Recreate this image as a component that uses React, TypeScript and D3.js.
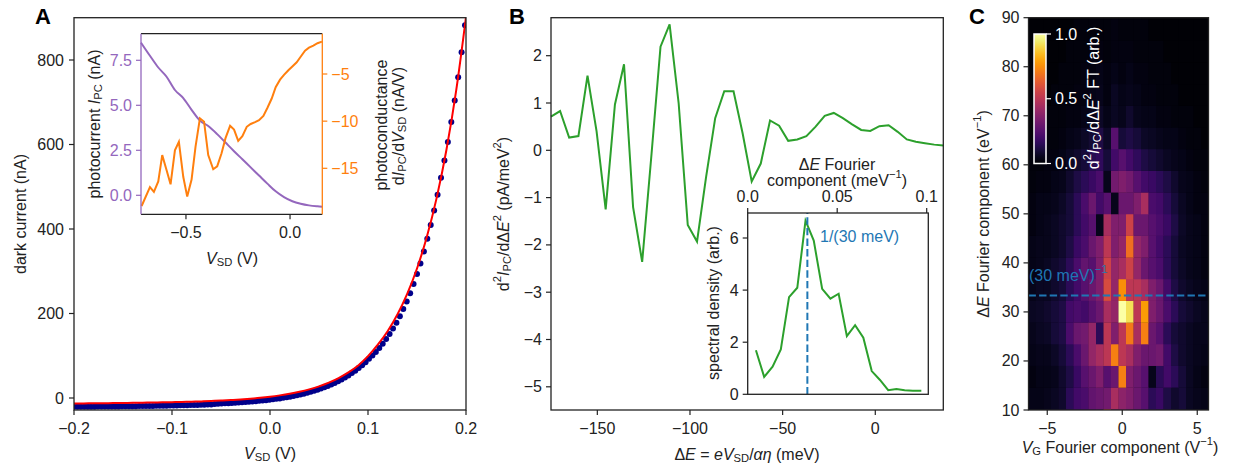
import React from "react";
import * as d3 from "d3";

const FONT = "'Liberation Sans', Arial, Helvetica, sans-serif";
const FS = 16;
const INK = "#222";

// ---------------- Panel A : dark current ----------------
const darkV = [
  -0.2, -0.1965, -0.193, -0.1895, -0.186, -0.1825, -0.179, -0.1755, -0.172, -0.1685,
  -0.165, -0.1615, -0.158, -0.1545, -0.151, -0.1475, -0.144, -0.1405, -0.137, -0.1335,
  -0.13, -0.1265, -0.123, -0.1195, -0.116, -0.1125, -0.109, -0.1055, -0.102, -0.0985,
  -0.095, -0.0915, -0.088, -0.0845, -0.081, -0.0775, -0.074, -0.0705, -0.067, -0.0635,
  -0.06, -0.0565, -0.053, -0.0495, -0.046, -0.0425, -0.039, -0.0355, -0.032, -0.0285,
  -0.025, -0.0215, -0.018, -0.0145, -0.011, -0.0075, -0.004, -0.0005, 0.003, 0.0065,
  0.01, 0.0135, 0.017, 0.0205, 0.024, 0.0275, 0.031, 0.0345, 0.038, 0.0415,
  0.045, 0.0485, 0.052, 0.0555, 0.059, 0.0625, 0.066, 0.0695, 0.073, 0.0765,
  0.08, 0.0835, 0.087, 0.0905, 0.094, 0.0975, 0.101, 0.1045, 0.108, 0.1115,
  0.115, 0.1185, 0.122, 0.1255, 0.129, 0.1325, 0.136, 0.1395, 0.143, 0.1465,
  0.15, 0.1535, 0.157, 0.1605, 0.164, 0.1675, 0.171, 0.1745, 0.178, 0.1815,
  0.185, 0.1885, 0.192, 0.1955, 0.199,
];
const darkI = [
  -21.0, -20.9, -20.8, -20.8, -20.7, -20.6, -20.5, -20.4, -20.3, -20.3,
  -20.2, -20.1, -20.0, -19.9, -19.8, -19.7, -19.6, -19.5, -19.3, -19.2,
  -19.1, -19.0, -18.9, -18.7, -18.6, -18.4, -18.3, -18.1, -18.0, -17.8,
  -17.6, -17.4, -17.2, -17.0, -16.8, -16.5, -16.3, -16.0, -15.7, -15.4,
  -15.1, -14.3, -13.7, -13.2, -12.7, -12.2, -11.8, -11.3, -10.8, -10.2,
  -9.6, -9.0, -8.3, -7.6, -6.8, -6.0, -5.1, -4.1, -3.1, -2.0,
  -0.9, 0.4, 1.8, 3.2, 4.8, 6.4, 8.2, 10.2, 12.3, 14.5,
  16.9, 19.5, 22.2, 25.2, 28.4, 31.9, 35.6, 39.6, 43.9, 48.5,
  53.5, 58.9, 64.7, 70.9, 77.6, 84.8, 92.8, 100.3, 108.6, 118.6,
  128.3, 139.9, 151.3, 164.7, 178.2, 193.7, 210.5, 228.5, 247.9, 269.9,
  293.4, 318.6, 346.8, 377.0, 409.3, 444.0, 481.2, 521.1, 561.9, 606.0,
  653.3, 704.4, 759.3, 818.6, 882.5,
];
const fitV = [
  -0.2, -0.19, -0.18, -0.17, -0.16, -0.15, -0.14, -0.13, -0.12, -0.11,
  -0.1, -0.09, -0.08, -0.07, -0.06, -0.05, -0.04, -0.03, -0.02, -0.01,
  0, 0.01, 0.02, 0.03, 0.04, 0.05, 0.06, 0.07, 0.08, 0.09,
  0.1, 0.11, 0.12, 0.13, 0.14, 0.15, 0.16, 0.17, 0.18, 0.19, 0.2,
];
const fitI = [
  -13.0, -12.8, -12.5, -12.3, -12.0, -11.8, -11.4, -11.1, -10.7, -10.3,
  -9.9, -9.3, -8.7, -8.0, -7.1, -6.1, -4.9, -3.5, -1.7, 0.4,
  3.0, 6.2, 10.0, 14.7, 20.5, 27.6, 36.4, 47.2, 60.6, 77.0,
  99.0, 126.2, 158.1, 197.6, 246.3, 306.6, 381.0, 473.1, 587.0, 727.9, 902.2,
];
const aXTicks = [-0.2, -0.1, 0, 0.1, 0.2];
const aXLabels = ["\u22120.2", "\u22120.1", "0.0", "0.1", "0.2"];
const aYTicks = [0, 200, 400, 600, 800];

// inset A : photocurrent and photoconductance
const pcV = [-0.716, -0.673, -0.633, -0.594, -0.553, -0.513, -0.473, -0.433, -0.393, -0.35, -0.31, -0.269, -0.229, -0.189, -0.149, -0.109, -0.069, -0.029, 0.011, 0.051, 0.091, 0.132, 0.155];
const pcI = [8.48, 7.75, 7.1, 6.6, 5.85, 5.4, 4.75, 4.15, 3.85, 3.4, 2.93, 2.45, 2.0, 1.55, 1.1, 0.65, 0.22, -0.1, -0.33, -0.47, -0.56, -0.61, -0.63];
const gV = [
  -0.713, -0.673, -0.654, -0.633, -0.614, -0.593, -0.574, -0.553, -0.534, -0.513,
  -0.494, -0.473, -0.454, -0.433, -0.413, -0.393, -0.369, -0.35, -0.329, -0.31,
  -0.288, -0.269, -0.249, -0.229, -0.208, -0.189, -0.168, -0.149, -0.128, -0.109,
  -0.088, -0.069, -0.048, -0.029, -0.008, 0.011, 0.032, 0.051, 0.072, 0.091,
  0.112, 0.132, 0.153,
];
const gG = [
  -19.0, -17.0, -17.5, -16.4, -13.6, -15.2, -16.7, -13.1, -12.2, -15.9,
  -18.0, -16.2, -12.7, -9.7, -10.06, -13.6, -15.1, -14.8, -13.4, -11.8,
  -10.5, -10.9, -12.1, -11.6, -10.6, -10.3, -10.1, -9.9, -9.45, -8.6,
  -7.6, -6.4, -5.6, -5.1, -4.6, -4.2, -3.76, -3.17, -2.53, -2.21,
  -2.0, -1.74, -1.57,
];
const iaXTicks = [-0.5, 0];
const iaXLabels = ["\u22120.5", "0.0"];
const iaLTicks = [0, 2.5, 5, 7.5];
const iaLLabels = ["0.0", "2.5", "5.0", "7.5"];
const iaRTicks = [-15, -10, -5];
const iaRLabels = ["\u221215", "\u221210", "\u22125"];

// ---------------- Panel B ----------------
const bE = [
  -175.0, -170.1, -165.2, -160.2, -155.3, -150.4, -145.5, -140.5, -135.6, -130.7,
  -125.8, -120.8, -115.9, -111.0, -106.1, -101.2, -96.2, -91.3, -86.4, -81.5,
  -76.5, -71.6, -66.7, -61.8, -56.8, -51.9, -47.0, -42.1, -37.2, -32.2,
  -27.3, -22.4, -17.5, -12.5, -7.6, -2.7, 2.2, 7.2, 12.1, 17.0,
  21.9, 26.8, 31.8, 36.7,
];
const bD = [
  0.71, 0.83, 0.27, 0.3, 1.58, 0.4, -1.25, 0.97, 1.82, -1.2,
  -2.36, -0.1, 2.19, 2.66, 0.99, -1.58, -1.93, -0.56, 0.68, 1.25,
  1.25, 0.36, -0.66, -0.28, 0.63, 0.52, 0.2, 0.23, 0.3, 0.5,
  0.73, 0.79, 0.68, 0.55, 0.43, 0.41, 0.51, 0.53, 0.39, 0.23,
  0.18, 0.15, 0.12, 0.1,
];
const bXTicks = [-150, -100, -50, 0];
const bXLabels = ["\u2212150", "\u2212100", "\u221250", "0"];
const bYTicks = [-5, -4, -3, -2, -1, 0, 1, 2];
const bYLabels = ["\u22125", "\u22124", "\u22123", "\u22122", "\u22121", "0", "1", "2"];

const fK = [0.0046, 0.0092, 0.0139, 0.0185, 0.0231, 0.0277, 0.0323, 0.0369, 0.0416, 0.0462, 0.0508, 0.0554, 0.06, 0.0646, 0.0693, 0.0739, 0.0785, 0.0831, 0.0877, 0.0923, 0.097];
const fS = [1.69, 0.67, 1.06, 1.72, 3.73, 4.09, 6.67, 5.9, 4.05, 3.67, 3.86, 2.23, 2.65, 2.17, 0.89, 0.55, 0.16, 0.2, 0.16, 0.14, 0.14];
const ibXTicks = [0, 0.05, 0.1];
const ibXLabels = ["0.0", "0.05", "0.1"];
const ibYTicks = [0, 2, 4, 6];
const markerFreq = 1 / 30;

// ---------------- Panel C ----------------
const vgFreq = [-6, -5.5, -5, -4.5, -4, -3.5, -3, -2.5, -2, -1.5, -1, -0.5, 0, 0.5, 1, 1.5, 2, 2.5, 3, 3.5, 4, 4.5, 5, 5.5];
const eFreq = [7.99, 12.41, 16.83, 21.25, 25.67, 30.09, 34.51, 38.93, 43.35, 47.77, 52.19, 56.61, 61.03, 65.45, 69.87, 74.29, 78.71, 83.13, 87.55, 91.97];
const ftGrid = [
  [.05,.05,.06,.08,.10,.12,.15,.18,.22,.25,.65,.30,.35,.30,.25,.20,.15,.12,.10,.08,.06,.05,.05,.04],
  [.04,.04,.05,.06,.08,.15,.20,.22,.28,.30,.32,.45,.38,.35,.30,.25,.15,.18,.12,.08,.10,.06,.05,.04],
  [.03,.04,.04,.05,.08,.12,.18,.25,.30,.35,.25,.30,.72,.35,.30,.25,.05,.15,.20,.15,.10,.06,.04,.03],
  [.04,.05,.05,.07,.10,.15,.22,.30,.40,.45,.50,.72,.50,.45,.35,.30,.30,.32,.20,.12,.08,.06,.05,.04],
  [.05,.06,.07,.10,.12,.22,.30,.32,.40,.15,.50,.35,.50,.70,.45,.72,.30,.25,.15,.10,.08,.06,.05,.05],
  [.06,.07,.08,.10,.12,.20,.22,.20,.25,.30,.45,.40,1.0,.92,.50,.78,.35,.30,.22,.15,.10,.08,.06,.05],
  [.05,.06,.06,.08,.10,.15,.20,.25,.30,.35,.58,.40,.75,.50,.50,.45,.35,.30,.20,.12,.08,.06,.05,.04],
  [.04,.05,.06,.08,.10,.15,.22,.28,.25,.35,.55,.40,.45,.55,.40,.30,.25,.22,.15,.10,.07,.05,.04,.03],
  [.04,.05,.05,.06,.08,.12,.18,.22,.30,.35,.50,.35,.40,.68,.40,.35,.25,.20,.15,.10,.06,.05,.04,.03],
  [.03,.04,.05,.06,.08,.10,.15,.20,.25,.05,.45,.35,.35,.55,.30,.30,.25,.22,.18,.12,.07,.05,.04,.03],
  [.03,.04,.04,.05,.07,.10,.15,.22,.30,.20,.25,.05,.30,.30,.35,.45,.22,.20,.15,.10,.06,.04,.03,.03],
  [.02,.03,.03,.04,.05,.08,.12,.15,.18,.22,.05,.32,.35,.32,.25,.20,.18,.15,.12,.08,.05,.04,.03,.02],
  [.02,.02,.03,.03,.04,.06,.08,.10,.14,.16,.10,.20,.25,.20,.16,.12,.10,.08,.06,.05,.04,.03,.02,.02],
  [.01,.02,.02,.02,.03,.04,.05,.07,.09,.12,.07,.25,.10,.12,.10,.07,.06,.05,.04,.04,.03,.02,.02,.01],
  [.01,.01,.02,.02,.02,.03,.03,.04,.05,.07,.04,.06,.05,.08,.05,.04,.04,.03,.03,.02,.02,.02,.01,.01],
  [.01,.01,.01,.02,.02,.02,.03,.03,.04,.05,.03,.06,.04,.05,.04,.03,.03,.02,.02,.02,.01,.01,.01,.01],
  [.01,.01,.01,.01,.02,.02,.02,.03,.03,.04,.03,.04,.03,.04,.03,.03,.02,.02,.02,.01,.01,.01,.01,.01],
  [.01,.01,.01,.01,.01,.02,.02,.02,.03,.03,.02,.03,.03,.03,.02,.02,.02,.02,.01,.01,.01,.01,.01,.01],
  [.01,.01,.01,.01,.01,.01,.02,.02,.02,.02,.02,.03,.02,.02,.02,.02,.01,.01,.01,.01,.01,.01,.01,.01],
  [.01,.01,.01,.01,.01,.01,.01,.01,.02,.02,.02,.02,.02,.02,.02,.01,.01,.01,.01,.01,.01,.01,.01,.01],
];
const cXTicks = [-5, 0, 5];
const cXLabels = ["\u22125", "0", "5"];
const cYTicks = [10, 20, 30, 40, 50, 60, 70, 80, 90];
const cbTicks = [0, 0.5, 1];
const cbLabels = ["0.0", "0.5", "1.0"];
const periodFreq = 1000 / 30;

// ---------------- helpers ----------------
type Part = { t: string; it?: boolean; sub?: boolean; sup?: boolean };
function Rich({ parts, fs = FS }: { parts: Part[]; fs?: number }) {
  let cur = 0;
  return (
    <>
      {parts.map((p, i) => {
        const target = p.sub ? fs * 0.24 : p.sup ? -fs * 0.4 : 0;
        const dy = target - cur;
        cur = target;
        return (
          <tspan
            key={i}
            dy={dy}
            fontStyle={p.it ? "italic" : "normal"}
            fontSize={p.sub || p.sup ? fs * 0.7 : fs}
          >
            {p.t}
          </tspan>
        );
      })}
    </>
  );
}

function LeftTicks({ scale, ticks, labels, x, color = INK, len = 5, gap = 4 }: any) {
  return (
    <g>
      {ticks.map((t: number, i: number) => (
        <g key={i}>
          <line x1={x - len} x2={x} y1={scale(t)} y2={scale(t)} stroke={color} strokeWidth={1.2} />
          <text x={x - len - gap} y={scale(t)} textAnchor="end" dominantBaseline="central" fill={color} fontSize={FS}>
            {labels ? labels[i] : String(t)}
          </text>
        </g>
      ))}
    </g>
  );
}
function RightTicks({ scale, ticks, labels, x, color = INK, len = 5, gap = 4 }: any) {
  return (
    <g>
      {ticks.map((t: number, i: number) => (
        <g key={i}>
          <line x1={x} x2={x + len} y1={scale(t)} y2={scale(t)} stroke={color} strokeWidth={1.2} />
          <text x={x + len + gap} y={scale(t)} textAnchor="start" dominantBaseline="central" fill={color} fontSize={FS}>
            {labels ? labels[i] : String(t)}
          </text>
        </g>
      ))}
    </g>
  );
}
function BottomTicks({ scale, ticks, labels, y, color = INK, len = 5, gap = 13 }: any) {
  return (
    <g>
      {ticks.map((t: number, i: number) => (
        <g key={i}>
          <line x1={scale(t)} x2={scale(t)} y1={y} y2={y + len} stroke={color} strokeWidth={1.2} />
          <text x={scale(t)} y={y + len + gap} textAnchor="middle" dominantBaseline="central" fill={color} fontSize={FS}>
            {labels ? labels[i] : String(t)}
          </text>
        </g>
      ))}
    </g>
  );
}
function TopTicks({ scale, ticks, labels, y, color = INK, len = 5, gap = 12 }: any) {
  return (
    <g>
      {ticks.map((t: number, i: number) => (
        <g key={i}>
          <line x1={scale(t)} x2={scale(t)} y1={y - len} y2={y} stroke={color} strokeWidth={1.2} />
          <text x={scale(t)} y={y - len - gap} textAnchor="middle" dominantBaseline="central" fill={color} fontSize={FS}>
            {labels ? labels[i] : String(t)}
          </text>
        </g>
      ))}
    </g>
  );
}
function VLabel({ x, y, parts, fill = INK }: { x: number; y: number; parts: Part[]; fill?: string }) {
  return (
    <text transform={`translate(${x},${y}) rotate(-90)`} textAnchor="middle" dominantBaseline="central" fill={fill} fontSize={FS}>
      <Rich parts={parts} />
    </text>
  );
}

export default function App() {
  // ---- Panel A geometry ----
  const A = { l: 74, r: 466, t: 17.7, b: 410 };
  const xA = d3.scaleLinear().domain([-0.2, 0.2]).range([A.l, A.r]);
  const yA = d3.scaleLinear().domain([0, 800]).range([398, 60]);
  const fitLine = d3
    .line<number>()
    .x((_, i) => xA(fitV[i]))
    .y((d) => yA(d))
    .curve(d3.curveMonotoneX)(fitI);

  const IA = { l: 141, r: 322.3, t: 33.7, b: 214.3 };
  const xIA = d3.scaleLinear().domain([-0.716, 0.155]).range([IA.l, IA.r]);
  const yIAL = d3.scaleLinear().domain([0, 7.5]).range([195.3, 60.3]);
  const yIAR = d3.scaleLinear().domain([-15, -5]).range([168.3, 74]);
  const pcLine = d3.line<number>().x((_, i) => xIA(pcV[i])).y((d) => yIAL(d)).curve(d3.curveMonotoneX)(pcI);
  const gLine = d3.line<number>().x((_, i) => xIA(gV[i])).y((d) => yIAR(d))(gG);

  // ---- Panel B geometry ----
  const B = { l: 551, r: 943.3, t: 17.7, b: 410 };
  const xB = d3.scaleLinear().domain([-175, 36.7]).range([B.l, B.r]);
  const yB = d3.scaleLinear().domain([0, 1]).range([150.3, 103]);
  const bLine = d3.line<number>().x((_, i) => xB(bE[i])).y((d) => yB(d))(bD);

  const IB = { l: 747.7, r: 928.3, t: 213, b: 394.3 };
  const xIB = d3.scaleLinear().domain([0, 0.05]).range([IB.l, 837.2]);
  const yIB = d3.scaleLinear().domain([0, 2]).range([IB.b, 342.2]);
  const fLine = d3.line<number>().x((_, i) => xIB(fK[i])).y((d) => yIB(d))(fS);

  // ---- Panel C geometry ----
  const C = { l: 1028.5, r: 1208.5, t: 17.7, b: 410 };
  const xC = d3.scaleLinear().domain([-6.25, 5.75]).range([C.l, C.r]);
  const yC = d3.scaleLinear().domain([10, 90]).range([C.b, C.t]);
  const color = (v: number) => d3.interpolateInferno(Math.max(0, Math.min(1, v)));
  const cellW = 0.5;
  const cellH = 4.42;
  const CB = { l: 1034, r: 1046, t: 34, b: 163.5 };
  const yCB = d3.scaleLinear().domain([0, 1]).range([CB.b, CB.t]);
  const gradStops = d3.range(0, 1.0001, 0.05);

  return (
    <svg
      width={1240}
      height={469}
      viewBox="0 0 1240 469"
      style={{ position: "absolute", left: 0, top: 0, background: "#fff" }}
      fontFamily={FONT}
    >
      <defs>
        <clipPath id="clipA">
          <rect x={A.l} y={A.t} width={A.r - A.l} height={A.b - A.t} />
        </clipPath>
        <clipPath id="clipC">
          <rect x={C.l} y={C.t} width={C.r - C.l} height={C.b - C.t} />
        </clipPath>
        <linearGradient id="cbGrad" x1="0" y1="1" x2="0" y2="0">
          {gradStops.map((s, i) => (
            <stop key={i} offset={s} stopColor={d3.interpolateInferno(s)} />
          ))}
        </linearGradient>
      </defs>
      <rect x={0} y={0} width={1240} height={469} fill="#fff" />

      {/* ================= Panel A ================= */}
      <g clipPath="url(#clipA)">
        {darkI.map((d, i) => (
          <circle key={i} cx={xA(darkV[i])} cy={yA(d)} r={3} fill="#00008b" />
        ))}
        <path d={fitLine || ""} fill="none" stroke="#ff0000" strokeWidth={2} />
      </g>
      <rect x={A.l} y={A.t} width={A.r - A.l} height={A.b - A.t} fill="none" stroke={INK} strokeWidth={1.3} />
      <BottomTicks scale={xA} ticks={aXTicks} labels={aXLabels} y={A.b} />
      <LeftTicks scale={yA} ticks={aYTicks} x={A.l} gap={5} />
      <text x={270} y={453} textAnchor="middle" dominantBaseline="central" fill={INK} fontSize={FS}>
        <Rich parts={[{ t: "V", it: true }, { t: "SD", sub: true }, { t: " (V)" }]} />
      </text>
      <VLabel x={20} y={214} parts={[{ t: "dark current (nA)" }]} />
      <text x={35} y={23.5} fontSize={22} fontWeight="bold" fill="#000">A</text>

      {/* inset A */}
      <rect x={IA.l} y={IA.t} width={IA.r - IA.l} height={IA.b - IA.t} fill="#fff" />
      <path d={pcLine || ""} fill="none" stroke="#9467bd" strokeWidth={2} />
      <path d={gLine || ""} fill="none" stroke="#ff7f0e" strokeWidth={2} />
      <line x1={IA.l} x2={IA.r} y1={IA.t} y2={IA.t} stroke={INK} strokeWidth={1.3} />
      <line x1={IA.l} x2={IA.r} y1={IA.b} y2={IA.b} stroke={INK} strokeWidth={1.3} />
      <line x1={IA.l} x2={IA.l} y1={IA.t} y2={IA.b} stroke="#9467bd" strokeWidth={1.3} />
      <line x1={IA.r} x2={IA.r} y1={IA.t} y2={IA.b} stroke="#ff7f0e" strokeWidth={1.3} />
      <BottomTicks scale={xIA} ticks={iaXTicks} labels={iaXLabels} y={IA.b} />
      <LeftTicks scale={yIAL} ticks={iaLTicks} labels={iaLLabels} x={IA.l} color="#9467bd" gap={4} />
      <RightTicks scale={yIAR} ticks={iaRTicks} labels={iaRLabels} x={IA.r} color="#ff7f0e" gap={4} />
      <text x={232} y={258} textAnchor="middle" dominantBaseline="central" fill={INK} fontSize={FS}>
        <Rich parts={[{ t: "V", it: true }, { t: "SD", sub: true }, { t: " (V)" }]} />
      </text>
      <VLabel x={94} y={124} parts={[{ t: "photocurrent " }, { t: "I", it: true }, { t: "PC", sub: true }, { t: " (nA)" }]} />
      <VLabel x={381} y={125} parts={[{ t: "photoconductance" }]} />
      <VLabel
        x={398}
        y={126}
        parts={[{ t: "d" }, { t: "I", it: true }, { t: "PC", sub: true }, { t: "/d" }, { t: "V", it: true }, { t: "SD", sub: true }, { t: " (nA/V)" }]}
      />

      {/* ================= Panel B ================= */}
      <path d={bLine || ""} fill="none" stroke="#2ca02c" strokeWidth={2} />
      <rect x={B.l} y={B.t} width={B.r - B.l} height={B.b - B.t} fill="none" stroke={INK} strokeWidth={1.3} />
      <BottomTicks scale={xB} ticks={bXTicks} labels={bXLabels} y={B.b} />
      <LeftTicks scale={yB} ticks={bYTicks} labels={bYLabels} x={B.l} gap={4} />
      <text x={747} y={454} textAnchor="middle" dominantBaseline="central" fill={INK} fontSize={FS}>
        <Rich
          parts={[
            { t: "\u0394" },
            { t: "E", it: true },
            { t: " = " },
            { t: "eV", it: true },
            { t: "SD", sub: true },
            { t: "/" },
            { t: "\u03b1\u03b7", it: true },
            { t: " (meV)" },
          ]}
        />
      </text>
      <VLabel
        x={503}
        y={214}
        parts={[
          { t: "d" },
          { t: "2", sup: true },
          { t: "I", it: true },
          { t: "PC", sub: true },
          { t: "/d\u0394" },
          { t: "E", it: true },
          { t: "2", sup: true },
          { t: " (pA/meV" },
          { t: "2", sup: true },
          { t: ")" },
        ]}
      />
      <text x={509} y={23.5} fontSize={22} fontWeight="bold" fill="#000">B</text>

      {/* inset B */}
      <rect x={IB.l} y={IB.t} width={IB.r - IB.l} height={IB.b - IB.t} fill="#fff" />
      <path d={fLine || ""} fill="none" stroke="#2ca02c" strokeWidth={2} />
      <line
        x1={xIB(markerFreq)}
        x2={xIB(markerFreq)}
        y1={IB.b}
        y2={IB.t}
        stroke="#1f77b4"
        strokeWidth={2}
        strokeDasharray="7.4 3.2"
      />
      <text x={820} y={236} dominantBaseline="central" fill="#1f77b4" fontSize={FS}>1/(30 meV)</text>
      <rect x={IB.l} y={IB.t} width={IB.r - IB.l} height={IB.b - IB.t} fill="none" stroke={INK} strokeWidth={1.3} />
      <TopTicks scale={xIB} ticks={ibXTicks} labels={ibXLabels} y={IB.t} />
      <LeftTicks scale={yIB} ticks={ibYTicks} x={IB.l} gap={4} />
      <text x={837} y={164} textAnchor="middle" dominantBaseline="central" fill={INK} fontSize={FS}>
        <Rich parts={[{ t: "\u0394" }, { t: "E", it: true }, { t: " Fourier" }]} />
      </text>
      <text x={837} y={180} textAnchor="middle" dominantBaseline="central" fill={INK} fontSize={FS}>
        <Rich parts={[{ t: "component (meV" }, { t: "\u22121", sup: true }, { t: ")" }]} />
      </text>
      <VLabel x={713} y={303} parts={[{ t: "spectral density (arb.)" }]} />

      {/* ================= Panel C ================= */}
      <rect x={C.l} y={C.t} width={C.r - C.l} height={C.b - C.t} fill="#000004" />
      <g clipPath="url(#clipC)">
        {ftGrid.map((row, r) =>
          row.map((v, c) => (
            <rect
              key={`${r}-${c}`}
              x={xC(vgFreq[c] - cellW / 2)}
              width={xC(vgFreq[c] + cellW / 2) - xC(vgFreq[c] - cellW / 2) + 0.3}
              y={yC(eFreq[r] + cellH / 2)}
              height={yC(eFreq[r] - cellH / 2) - yC(eFreq[r] + cellH / 2) + 0.3}
              fill={color(v)}
            />
          ))
        )}
        <line
          x1={C.l}
          x2={C.r}
          y1={yC(periodFreq)}
          y2={yC(periodFreq)}
          stroke="#1f77b4"
          strokeWidth={2}
          strokeDasharray="7.4 3.2"
        />
      </g>
      <text x={1029} y={275} dominantBaseline="central" fill="#1f77b4" fontSize={FS}>
        <Rich parts={[{ t: "(30 meV)" }, { t: "\u22121", sup: true }]} />
      </text>
      {/* colorbar */}
      <rect x={CB.l} y={CB.t} width={CB.r - CB.l} height={CB.b - CB.t} fill="url(#cbGrad)" stroke="#fff" strokeWidth={1.5} />
      {cbTicks.map((t, i) => (
        <g key={i}>
          <line x1={CB.r} x2={CB.r + 5} y1={yCB(t)} y2={yCB(t)} stroke="#fff" strokeWidth={1.2} />
          <text x={CB.r + 9} y={yCB(t)} dominantBaseline="central" fill="#fff" fontSize={FS}>{cbLabels[i]}</text>
        </g>
      ))}
      <VLabel
        x={1093}
        y={98}
        fill="#fff"
        parts={[
          { t: "d" },
          { t: "2", sup: true },
          { t: "I", it: true },
          { t: "PC", sub: true },
          { t: "/d\u0394" },
          { t: "E", it: true },
          { t: "2", sup: true },
          { t: " FT (arb.)" },
        ]}
      />
      <rect x={C.l} y={C.t} width={C.r - C.l} height={C.b - C.t} fill="none" stroke={INK} strokeWidth={1.3} />
      <BottomTicks scale={xC} ticks={cXTicks} labels={cXLabels} y={C.b} />
      <LeftTicks scale={yC} ticks={cYTicks} x={C.l} gap={4} />
      <text x={1120} y={447} textAnchor="middle" dominantBaseline="central" fill={INK} fontSize={FS}>
        <Rich parts={[{ t: "V", it: true }, { t: "G", sub: true }, { t: " Fourier component (V" }, { t: "\u22121", sup: true }, { t: ")" }]} />
      </text>
      <VLabel
        x={983}
        y={214}
        parts={[{ t: "\u0394" }, { t: "E", it: true }, { t: " Fourier component (eV" }, { t: "\u22121", sup: true }, { t: ")" }]}
      />
      <text x={969} y={23.5} fontSize={22} fontWeight="bold" fill="#000">C</text>
    </svg>
  );
}
